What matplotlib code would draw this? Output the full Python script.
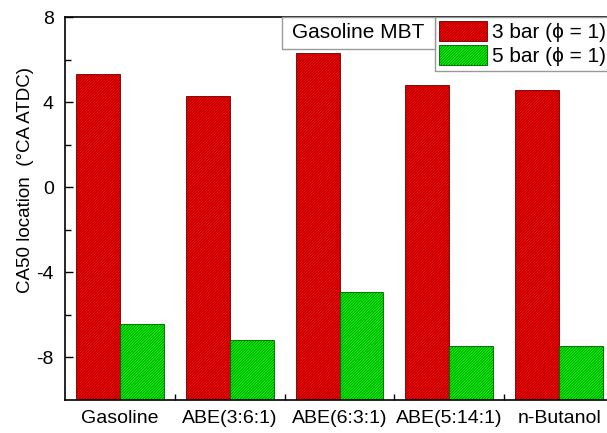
import matplotlib
matplotlib.use('Agg')
import matplotlib.pyplot as plt
import matplotlib.patches as mpatches
import numpy as np

fuels = ['Gasoline', 'ABE(3:6:1)', 'ABE(6:3:1)', 'ABE(5:14:1)', 'n-Butanol']
ca50_3bar = [5.3, 4.3, 6.3, 4.8, 4.55]
ca50_5bar = [-6.45, -7.2, -4.93, -7.44, -7.44]

plt.rcParams['font.family'] = ['Liberation Sans', 'DejaVu Sans']
plt.rcParams['hatch.linewidth'] = 0.4
plt.rcParams['axes.unicode_minus'] = False

fig = plt.figure(figsize=(6.07, 4.33), dpi=100)
ax = fig.add_axes([65/607, 33/433, 549/607, 383/433])

x = np.arange(1, len(fuels) + 1)
w = 0.4
ymin = -10
ax.bar(x - w/2, np.array(ca50_3bar) - ymin, w, bottom=ymin, color='#ff0000',
       edgecolor='#6a0000', linewidth=0.6, hatch='/' * 12, label='3 bar (\u03d5 = 1)')
ax.bar(x + w/2, np.array(ca50_5bar) - ymin, w, bottom=ymin, color='#00f800',
       edgecolor='#006000', linewidth=0.6, hatch='/' * 12, label='5 bar (\u03d5 = 1)')

ax.set_xlim(0.5, 5.5)
ax.set_ylim(-10, 8)
ax.set_yticks([-8, -4, 0, 4, 8])
ax.set_yticks([-6, -2, 2, 6], minor=True)
ax.set_xticks(x)
ax.set_xticklabels(fuels)
ax.set_xticks(x[:-1] + 0.5, minor=True)
ax.tick_params(axis='x', which='major', length=0, pad=7, labelsize=14)
ax.tick_params(axis='x', which='minor', direction='in', length=4, width=1)
ax.tick_params(axis='y', which='major', direction='in', length=6, width=1, pad=8, labelsize=14)
ax.tick_params(axis='y', which='minor', direction='in', length=4, width=1)
for s in ax.spines.values():
    s.set_linewidth(1.2)

ax.set_ylabel('CA50 location  (\u00b0CA ATDC)', fontsize=13.5)
ax.yaxis.set_label_coords(-0.057, 0.574, transform=ax.transAxes)

leg = ax.legend(loc='upper left', bbox_to_anchor=(435/607, 1 - 17/433),
                bbox_transform=fig.transFigure, fontsize=15, frameon=True,
                fancybox=False, edgecolor='#999999', framealpha=1,
                handlelength=2.3, handleheight=1.1, handletextpad=0.25,
                labelspacing=0.15, borderpad=0.2, borderaxespad=0)
leg.get_frame().set_linewidth(1)

# box with the operating condition, next to the legend
box = mpatches.Rectangle((282/607, 1 - 49/433), 153/607, 32/433, transform=fig.transFigure,
                         facecolor='white', edgecolor='#999999', lw=1, zorder=5)
fig.add_artist(box)
fig.text(292/607, 1 - 33/433, 'Gasoline MBT', fontsize=15, va='center', ha='left', zorder=6)

fig.savefig('out.png', dpi=100)
